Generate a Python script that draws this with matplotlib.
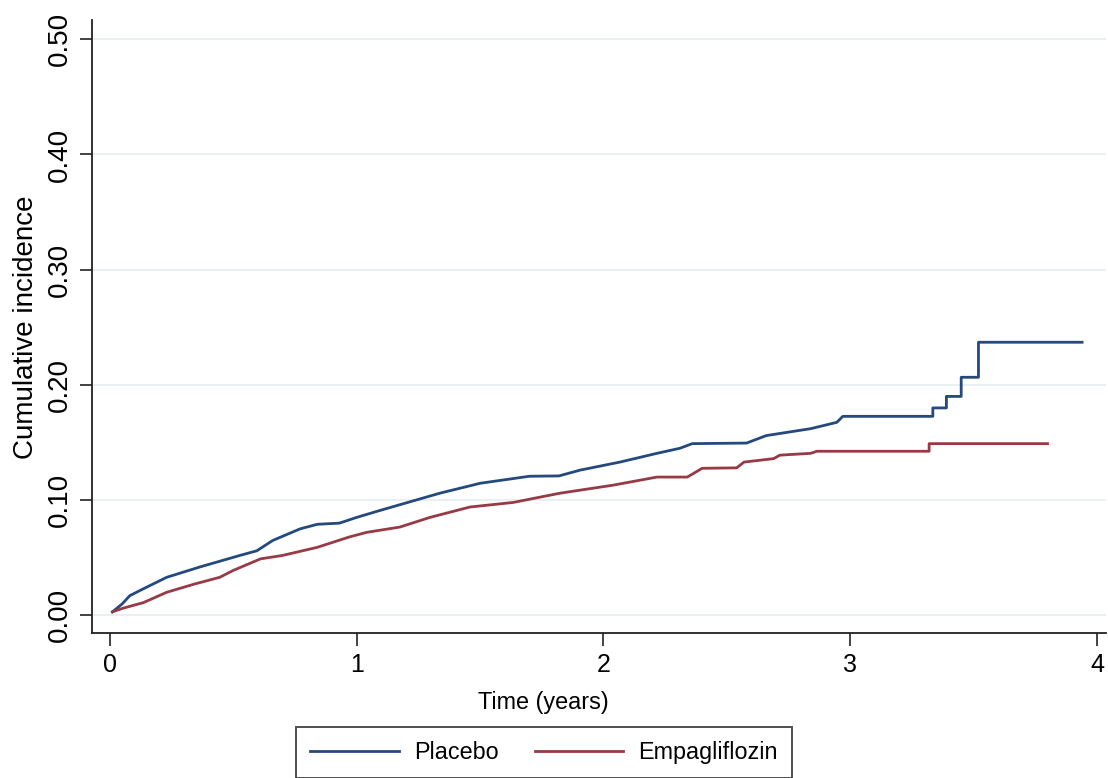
import matplotlib
matplotlib.use('Agg')
import matplotlib.pyplot as plt

plt.rcParams['font.family'] = ['Liberation Sans', 'DejaVu Sans']

# cumulative incidence
placebo_t = [0.01, 0.05, 0.08, 0.135, 0.23, 0.365, 0.527, 0.595, 0.66, 0.77, 0.84, 0.93,
             1.0, 1.094, 1.175, 1.337, 1.50, 1.70, 1.82, 1.905, 2.067, 2.217, 2.31, 2.36,
             2.58, 2.66, 2.84, 2.946, 2.97, 3.335, 3.335, 3.39, 3.39, 3.45, 3.45, 3.52,
             3.52, 3.94]
placebo_y = [0.003, 0.010, 0.017, 0.023, 0.033, 0.042, 0.052, 0.056, 0.065, 0.075, 0.079, 0.080,
             0.085, 0.091, 0.096, 0.106, 0.1146, 0.1207, 0.121, 0.126, 0.133, 0.1406, 0.145, 0.149,
             0.1495, 0.156, 0.162, 0.1675, 0.1727, 0.1727, 0.180, 0.180, 0.190, 0.190, 0.2066, 0.2066,
             0.237, 0.237]

empa_t = [0.01, 0.05, 0.135, 0.23, 0.34, 0.445, 0.5, 0.61, 0.70, 0.84, 0.97, 1.04, 1.175,
          1.297, 1.459, 1.635, 1.824, 2.04, 2.217, 2.34, 2.40, 2.54, 2.57, 2.69, 2.715, 2.84,
          2.865, 3.32, 3.32, 3.80]
empa_y = [0.003, 0.006, 0.011, 0.020, 0.027, 0.033, 0.039, 0.049, 0.052, 0.059, 0.068, 0.072, 0.0766,
          0.085, 0.094, 0.098, 0.106, 0.113, 0.120, 0.120, 0.1276, 0.128, 0.133, 0.136, 0.139, 0.1406,
          0.1424, 0.1424, 0.149, 0.149]

xticks = [0, 1, 2, 3, 4]
yticks = [0.0, 0.1, 0.2, 0.3, 0.4, 0.5]

fig = plt.figure(figsize=(11.08, 7.78), dpi=100)
ax = fig.add_axes([0.083, 0.186, 0.915, 0.788])

ax.plot(placebo_t, placebo_y, color='#24497e', lw=2.0, label='Placebo')
ax.plot(empa_t, empa_y, color='#983a45', lw=2.0, label='Empagliflozin')

ax.set_xlim(-0.073, 4.036)
ax.set_ylim(-0.0156, 0.5165)
ax.set_xticks(xticks)
ax.set_yticks(yticks)
ax.set_yticklabels(['%.2f' % v for v in yticks], rotation=90, va='center', fontsize=20)
ax.grid(axis='y', color='#e6eef0', lw=1.2)
ax.set_axisbelow(True)

for s in ['top', 'right']:
    ax.spines[s].set_visible(False)
for s in ['left', 'bottom']:
    ax.spines[s].set_linewidth(1.3)
    ax.spines[s].set_color('#222222')
ax.tick_params(direction='out', length=9, width=1.2, color='#222222')
ax.tick_params(axis='x', labelsize=18, pad=5)
ax.tick_params(axis='y', pad=5)

ax.set_xlabel('Time (years)', fontsize=16.8)
ax.xaxis.set_label_coords(0.445, -0.094)
ax.set_ylabel('Cumulative incidence', fontsize=20)
ax.yaxis.set_label_coords(-0.052, 0.5)

leg = fig.legend(loc='upper center', bbox_to_anchor=(0.491, 0.080), ncol=2, fontsize=16.8,
                 frameon=True, fancybox=False, handlelength=3.8, handletextpad=0.65,
                 columnspacing=1.55, borderpad=0.6)
leg.get_frame().set_edgecolor('#222222')
leg.get_frame().set_linewidth(1.4)

fig.savefig('out.png', dpi=100)
